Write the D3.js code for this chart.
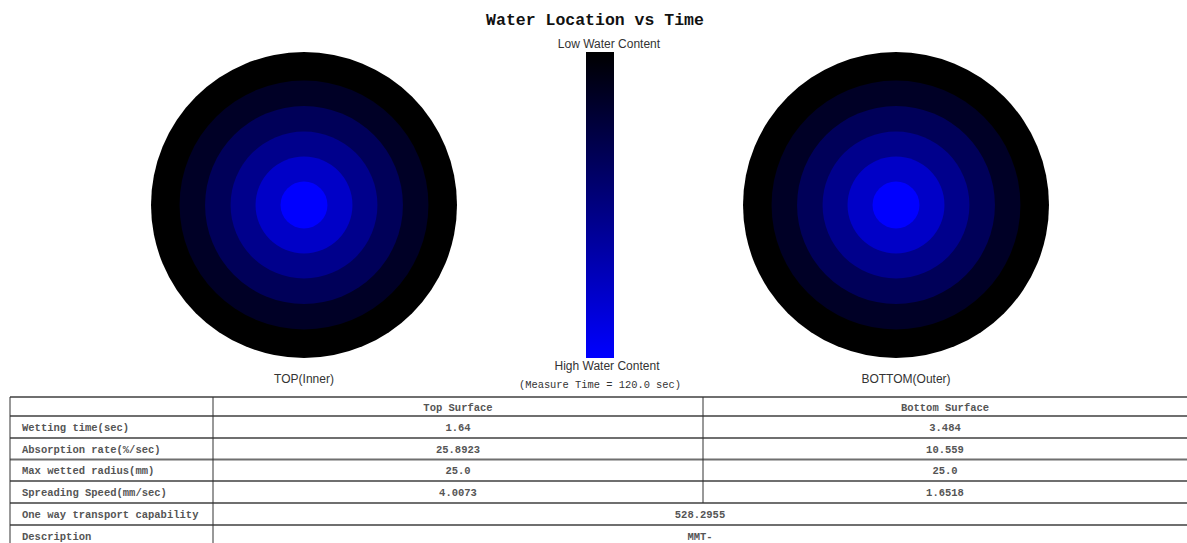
<!DOCTYPE html>
<html>
<head>
<meta charset="utf-8">
<script src="https://cdn.jsdelivr.net/npm/d3@7"></script>
<style>
  body { margin: 0; background: #fff; }
</style>
</head>
<body>
<div id="chart"></div>
<script>
// ring outer radii in mm (outermost first) and water content level for each ring
const ringRadii = [30, 24.4, 19.4, 14.4, 9.5, 4.6];
const topLevels = [0, 0.15, 0.35, 0.55, 0.78, 1.0];
const bottomLevels = [0, 0.15, 0.35, 0.55, 0.78, 1.0];

const rowLabels = ["Wetting time(sec)", "Absorption rate(%/sec)", "Max wetted radius(mm)", "Spreading Speed(mm/sec)"];
const topValues = ["1.64", "25.8923", "25.0", "4.0073"];
const bottomValues = ["3.484", "10.559", "25.0", "1.6518"];
const mergedRows = [["One way transport capability", "528.2955"], ["Description", "MMT-"]];

const width = 1187, height = 543;

const svg = d3.select('#chart').append('svg')
    .attr('width', width)
    .attr('height', height);

const mono = "'Liberation Mono', 'Courier New', monospace";
const sans = "'Liberation Sans', Arial, sans-serif";

// title
svg.append('text')
    .attr('x', 595)
    .attr('y', 25)
    .attr('text-anchor', 'middle')
    .attr('font-family', mono)
    .attr('font-weight', 'bold')
    .attr('font-size', '16.5px')
    .attr('fill', '#111')
    .text('Water Location vs Time');

// scales
const r = d3.scaleLinear().domain([0, 30]).range([0, 153]);
const color = d3.scaleLinear().domain([0, 1]).range(['#000000', '#0000ff']);

function rings(cx, cy, levels, label, labelX) {
  const g = svg.append('g').attr('transform', `translate(${cx},${cy})`);
  g.selectAll('circle')
    .data(ringRadii.map((d, i) => ({ r: d, v: levels[i] })))
    .join('circle')
      .attr('r', d => r(d.r))
      .attr('fill', d => color(d.v));
  g.append('text')
      .attr('x', labelX)
      .attr('y', 178)
      .attr('text-anchor', 'middle')
      .attr('font-family', sans)
      .attr('font-size', '12px')
      .attr('fill', '#333')
      .text(label);
}

rings(304, 205, topLevels, 'TOP(Inner)', 0);
rings(896, 205, bottomLevels, 'BOTTOM(Outer)', 10);

// colour bar
const defs = svg.append('defs');
const grad = defs.append('linearGradient')
    .attr('id', 'bar')
    .attr('x1', 0).attr('y1', 0).attr('x2', 0).attr('y2', 1);
grad.selectAll('stop')
  .data([0, 1])
  .join('stop')
    .attr('offset', d => d)
    .attr('stop-color', d => color(d));

svg.append('rect')
    .attr('x', 586)
    .attr('y', 52)
    .attr('width', 28)
    .attr('height', 306)
    .attr('fill', 'url(#bar)');

svg.append('text')
    .attr('x', 609).attr('y', 48)
    .attr('text-anchor', 'middle')
    .attr('font-family', sans)
    .attr('font-size', '12px')
    .attr('fill', '#333')
    .text('Low Water Content');

svg.append('text')
    .attr('x', 607).attr('y', 370)
    .attr('text-anchor', 'middle')
    .attr('font-family', sans)
    .attr('font-size', '12px')
    .attr('fill', '#333')
    .text('High Water Content');

svg.append('text')
    .attr('x', 600).attr('y', 388)
    .attr('text-anchor', 'middle')
    .attr('font-family', mono)
    .attr('font-size', '10.4px')
    .attr('fill', '#333')
    .text('(Measure Time = 120.0 sec)');

// table
const tLeft = 10, tRight = 1187, col1 = 213, col2 = 703;
const rowY = [397, 416, 438, 459.5, 481, 503, 525, 547];

const table = svg.append('g');

table.selectAll('line.h')
  .data(rowY)
  .join('line')
    .attr('class', 'h')
    .attr('x1', tLeft).attr('x2', tRight)
    .attr('y1', d => d).attr('y2', d => d)
    .attr('stroke', '#6f6f6f')
    .attr('stroke-width', 2);

table.append('line')
    .attr('x1', tLeft).attr('x2', tLeft)
    .attr('y1', rowY[0]).attr('y2', rowY[7])
    .attr('stroke', '#333');
table.append('line')
    .attr('x1', col1).attr('x2', col1)
    .attr('y1', rowY[0]).attr('y2', rowY[7])
    .attr('stroke', '#333');
table.append('line')
    .attr('x1', col2).attr('x2', col2)
    .attr('y1', rowY[0]).attr('y2', rowY[5])
    .attr('stroke', '#333');

function cell(x, y, txt, anchor) {
  table.append('text')
      .attr('x', x).attr('y', y)
      .attr('text-anchor', anchor)
      .attr('dominant-baseline', 'central')
      .attr('font-family', mono)
      .attr('font-weight', 'bold')
      .attr('font-size', '10.5px')
      .attr('fill', '#555')
      .text(txt);
}

const mid = (i) => (rowY[i] + rowY[i + 1]) / 2 + 1;

cell((col1 + col2) / 2, mid(0), 'Top Surface', 'middle');
cell((col2 + tRight) / 2, mid(0), 'Bottom Surface', 'middle');

rowLabels.forEach((d, i) => {
  cell(22, mid(i + 1), d, 'start');
  cell((col1 + col2) / 2, mid(i + 1), topValues[i], 'middle');
  cell((col2 + tRight) / 2, mid(i + 1), bottomValues[i], 'middle');
});

mergedRows.forEach((d, i) => {
  cell(22, mid(i + 5), d[0], 'start');
  cell((col1 + tRight) / 2, mid(i + 5), d[1], 'middle');
});
</script>
</body>
</html>
